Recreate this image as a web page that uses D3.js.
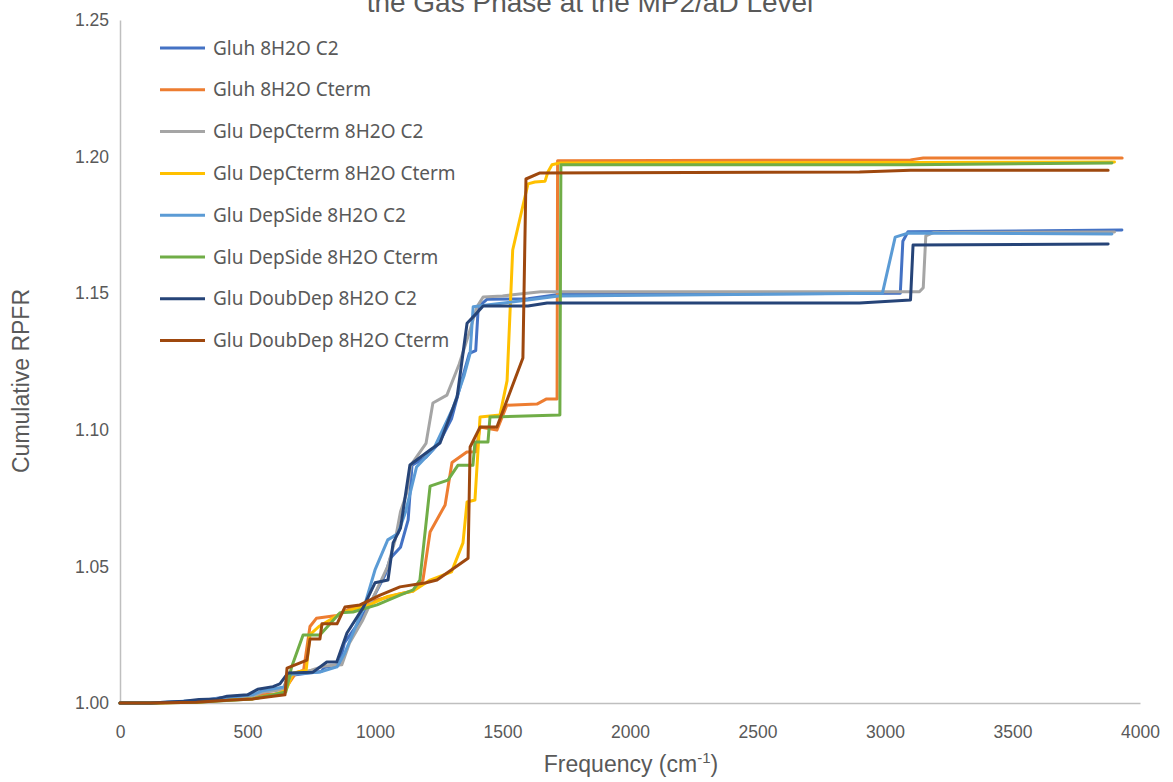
<!DOCTYPE html>
<html>
<head>
<meta charset="utf-8">
<script src="https://cdn.jsdelivr.net/npm/d3@7"></script>
<style>
  body { margin: 0; background: #fff; }
  svg { display: block; }
</style>
</head>
<body>
<svg id="canvas"></svg>
<script>
// series names, colours and [frequency, cumulative RPFR] points
let names = ["Gluh 8H2O C2", "Gluh 8H2O Cterm", "Glu DepCterm 8H2O C2", "Glu DepCterm 8H2O Cterm",
             "Glu DepSide 8H2O C2", "Glu DepSide 8H2O Cterm", "Glu DoubDep 8H2O C2", "Glu DoubDep 8H2O Cterm"];
let colors = ["#4472C4", "#ED7D31", "#A5A5A5", "#FFC000", "#5B9BD5", "#70AD47", "#264478", "#9E480E"];

let gluhC2 = [[0,1.000],[120,1.000],[260,1.0005],[330,1.001],[400,1.002],[520,1.0025],[560,1.004],[640,1.005],[660,1.010],[740,1.011],[790,1.0115],[800,1.013],[860,1.014],[880,1.022],[940,1.030],[990,1.038],[1040,1.047],[1060,1.053],[1100,1.057],[1130,1.067],[1145,1.087],[1200,1.090],[1250,1.095],[1300,1.104],[1340,1.118],[1370,1.128],[1395,1.129],[1405,1.145],[1440,1.1478],[1600,1.148],[1720,1.1495],[3060,1.150],[3070,1.169],[3090,1.1725],[3929,1.1731]];
let gluhCterm = [[0,1.000],[120,1.000],[250,1.0003],[380,1.001],[420,1.0015],[520,1.002],[560,1.003],[640,1.0035],[650,1.0055],[690,1.011],[720,1.012],[745,1.028],[770,1.031],[850,1.032],[900,1.0345],[1000,1.0375],[1100,1.040],[1150,1.041],[1188,1.045],[1216,1.0626],[1275,1.0725],[1302,1.088],[1360,1.0919],[1395,1.092],[1412,1.101],[1478,1.0999],[1517,1.109],[1635,1.1094],[1673,1.1113],[1714,1.1113],[1716,1.1985],[3100,1.1988],[3150,1.1995],[3930,1.1995]];
let depCtermC2 = [[0,1.000],[120,1.000],[260,1.0005],[340,1.001],[420,1.002],[520,1.0025],[560,1.004],[640,1.005],[660,1.010],[750,1.012],[800,1.0135],[870,1.014],[900,1.022],[950,1.030],[1000,1.040],[1050,1.050],[1080,1.060],[1100,1.070],[1125,1.077],[1140,1.087],[1200,1.095],[1227,1.1098],[1282,1.1127],[1330,1.124],[1361,1.133],[1400,1.145],[1424,1.1486],[1500,1.149],[1650,1.1505],[3135,1.1505],[3150,1.152],[3160,1.171],[3190,1.1722],[3900,1.1724]];
let depCtermCterm = [[0,1.000],[120,1.000],[300,1.0003],[400,1.001],[520,1.0015],[600,1.003],[650,1.0045],[680,1.011],[730,1.012],[745,1.025],[780,1.028],[870,1.033],[920,1.0345],[980,1.036],[1050,1.039],[1150,1.041],[1216,1.045],[1300,1.048],[1345,1.0586],[1361,1.0736],[1392,1.0743],[1412,1.1047],[1490,1.1054],[1518,1.118],[1540,1.1658],[1580,1.182],[1600,1.190],[1627,1.1907],[1667,1.1910],[1678,1.1944],[1694,1.197],[1725,1.1977],[3100,1.1978],[3900,1.1980]];
let depSideC2 = [[0,1.000],[120,1.000],[250,1.0006],[350,1.0012],[420,1.002],[520,1.003],[560,1.0045],[620,1.0055],[650,1.006],[670,1.0105],[784,1.0113],[851,1.0132],[880,1.018],[920,1.027],[960,1.036],[1000,1.0487],[1050,1.0597],[1090,1.062],[1120,1.070],[1163,1.0864],[1230,1.093],[1306,1.108],[1350,1.120],[1373,1.128],[1385,1.145],[1439,1.1457],[1600,1.1475],[1720,1.149],[2990,1.150],[3040,1.1705],[3090,1.172],[3890,1.1717]];
let depSideCterm = [[0,1.000],[120,1.000],[300,1.0003],[400,1.0008],[520,1.0015],[600,1.003],[650,1.004],[673,1.0132],[718,1.0249],[784,1.0249],[863,1.033],[914,1.0333],[1008,1.0359],[1098,1.0395],[1150,1.0414],[1176,1.045],[1216,1.0794],[1286,1.0816],[1325,1.087],[1384,1.087],[1392,1.0955],[1443,1.0955],[1451,1.1047],[1725,1.1054],[1729,1.197],[3100,1.197],[3890,1.1977]];
let doubDepC2 = [[0,1.000],[120,1.000],[250,1.0006],[310,1.0013],[380,1.0015],[420,1.0025],[500,1.003],[540,1.005],[600,1.006],[627,1.007],[659,1.011],[757,1.0113],[811,1.015],[850,1.015],[890,1.0256],[953,1.0348],[1000,1.044],[1051,1.045],[1071,1.0586],[1100,1.064],[1137,1.0871],[1216,1.0926],[1255,1.0952],[1322,1.112],[1361,1.139],[1400,1.1428],[1424,1.1453],[1600,1.1453],[1675,1.1464],[2900,1.1464],[3100,1.1475],[3110,1.1676],[3875,1.168]];
let doubDepCterm = [[0,1.000],[120,1.000],[300,1.0003],[420,1.001],[520,1.0015],[600,1.0025],[647,1.003],[655,1.0128],[733,1.0157],[745,1.0234],[784,1.0234],[792,1.029],[851,1.029],[882,1.0351],[941,1.0359],[1020,1.0395],[1098,1.0425],[1200,1.044],[1243,1.045],[1365,1.053],[1373,1.0937],[1412,1.101],[1478,1.101],[1580,1.1263],[1592,1.1918],[1647,1.194],[2900,1.1944],[3100,1.195],[3875,1.195]];

let xTicks = [0, 500, 1000, 1500, 2000, 2500, 3000, 3500, 4000];
let yTicks = [1.00, 1.05, 1.10, 1.15, 1.20, 1.25];

let series = [gluhC2, gluhCterm, depCtermC2, depCtermCterm, depSideC2, depSideCterm, doubDepC2, doubDepCterm];

let width = 1173;
let height = 782;
let textColor = "#595959";
let axisFont = "'Liberation Sans', Arial, sans-serif";

let canvas = d3.select("#canvas").attr("width", width).attr("height", height);

let xScale = d3.scaleLinear().domain([0, 4000]).range([120, 1140]);
let yScale = d3.scaleLinear().domain([1, 1.25]).range([703, 20]);

// title (only its second line shows, the first is above the window)
canvas.append("text")
      .attr("x", 590).attr("y", 12)
      .attr("text-anchor", "middle")
      .attr("font-family", axisFont).attr("font-size", 28)
      .attr("fill", textColor)
      .text("the Gas Phase at the MP2/aD Level");

let xAxis = d3.axisBottom(xScale).tickValues(xTicks).tickSize(0).tickPadding(23).tickFormat(d3.format("d"));
let gx = canvas.append("g")
      .attr("transform", "translate(0," + yScale(1) + ")")
      .call(xAxis);

let yAxis = d3.axisLeft(yScale).tickValues(yTicks).tickSize(0).tickPadding(11).tickFormat(d3.format(".2f"));
let gy = canvas.append("g")
      .attr("transform", "translate(" + xScale(0) + ",0)")
      .call(yAxis);

[gx, gy].forEach(g => {
    g.select(".domain").attr("stroke", "#BFBFBF").attr("stroke-width", 1.5);
    g.selectAll("text").attr("font-family", axisFont).attr("font-size", 17.5).attr("fill", textColor);
});

// axis titles
canvas.append("text")
      .attr("transform", "translate(29,381) rotate(-90)")
      .attr("text-anchor", "middle")
      .attr("font-family", axisFont).attr("font-size", 23)
      .attr("fill", textColor)
      .text("Cumulative RPFR");

let xt = canvas.append("text")
      .attr("x", 631).attr("y", 772)
      .attr("text-anchor", "middle")
      .attr("font-family", axisFont).attr("font-size", 23)
      .attr("fill", textColor);
xt.append("tspan").text("Frequency (cm");
xt.append("tspan").attr("dy", -9).attr("font-size", 15).text("-1");
xt.append("tspan").attr("dy", 9).text(")");

// lines
let line = d3.line().x(d => xScale(d[0])).y(d => yScale(d[1]));

canvas.append("g").selectAll("path")
      .data(series)
      .enter()
      .append("path")
      .attr("d", line)
      .attr("fill", "none")
      .attr("stroke", (d, i) => colors[i])
      .attr("stroke-width", 3)
      .attr("stroke-linejoin", "round")
      .attr("stroke-linecap", "round");

// legend
let legend = canvas.append("g").selectAll("g")
      .data(names)
      .enter()
      .append("g")
      .attr("transform", (d, i) => "translate(160," + (48 + i * 41.8) + ")");

legend.append("line")
      .attr("x1", 0).attr("x2", 45)
      .attr("stroke", (d, i) => colors[i])
      .attr("stroke-width", 3);

legend.append("text")
      .attr("x", 53).attr("y", 0).attr("dy", "0.35em")
      .attr("font-family", "'Noto Sans', 'Open Sans', sans-serif").attr("font-size", 19)
      .attr("fill", textColor)
      .text(d => d);
</script>
</body>
</html>
